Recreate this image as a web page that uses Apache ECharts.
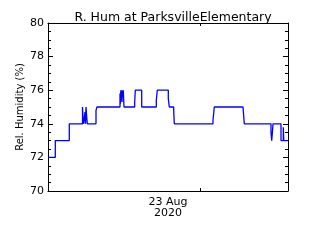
<!DOCTYPE html>
<html><head><meta charset="utf-8">
<script src="https://cdn.jsdelivr.net/npm/echarts@6/dist/echarts.min.js"></script>
<style>html,body{margin:0;padding:0;background:#fff}#c{width:320px;height:240px}</style>
</head><body><div id="c"></div>
<script>
const titleText = "R. Hum at ParksvilleElementary";
const yAxisName = "Rel. Humidity (%)";
const xAxisName = "23 Aug\n2020";
// hours since start of plotted window (22 Aug ~08:48)
const hours = [0, 0.73, 2.13, 3.45, 3.51, 3.57, 3.7, 3.75, 3.8, 3.86, 3.93, 4.8, 4.9,
  7.2, 7.24, 7.28, 7.32, 7.36, 7.4, 7.44, 7.49, 7.53, 7.6, 8.67, 8.73, 9.37, 10.83, 10.93,
  12.03, 12.13, 12.57, 12.63, 16.5, 16.63, 19.5, 19.63, 22.3, 22.37, 22.43, 22.5,
  23.3, 23.53, 23.58, 23.95];
const humidity = [72, 73, 74, 75, 74.3, 74, 74.7, 74, 75, 74.5, 74, 74.8, 75,
  75.8, 75.2, 76, 75.4, 76, 75.3, 76, 75.6, 76, 75, 75.3, 76, 75, 75.4, 76,
  75.5, 75, 74.8, 74, 74.2, 75, 74.9, 74, 73.5, 73, 73.4, 74,
  73, 73.8, 73, 73];
const midnightTick = [15.2];
const xRange = [0, 24];
const yRange = [70, 80];
const yStep = 2;

const chart = echarts.init(document.getElementById('c'), null, {renderer: 'canvas'});
const font = 'DejaVu Sans';
const yBase = {
  type: 'value', min: yRange[0], max: yRange[1], interval: yStep,
  axisLine: {show: true, onZero: false, lineStyle: {color: '#000', width: 1}},
  axisTick: {show: true, inside: true, length: 5, lineStyle: {color: '#000'}},
  minorTick: {show: true, splitNumber: 4, length: 3, lineStyle: {color: '#000'}},
  splitLine: {show: false}
};
chart.setOption({
  animation: false,
  title: {text: titleText, left: 168, top: 6, textAlign: 'center',
    textStyle: {fontFamily: font, fontSize: 12.5, fontWeight: 'normal', color: '#000'}},
  grid: {left: 48, right: 32, top: 23, bottom: 49},
  xAxis: [{
    type: 'value', min: xRange[0], max: xRange[1], position: 'bottom',
    name: xAxisName, nameLocation: 'middle', nameGap: 6, nameMoveOverlap: false,
    nameTextStyle: {fontFamily: font, fontSize: 11, color: '#000', lineHeight: 11, verticalAlign: 'top'},
    axisLine: {show: true, onZero: false, lineStyle: {color: '#000', width: 1}},
    axisTick: {show: true, inside: true, length: 3, customValues: midnightTick, lineStyle: {color: '#000'}},
    axisLabel: {show: false}, splitLine: {show: false}
  }, {
    type: 'value', min: xRange[0], max: xRange[1], position: 'top',
    axisLine: {show: true, onZero: false, lineStyle: {color: '#000', width: 1}},
    axisTick: {show: true, inside: true, length: 3, customValues: midnightTick, lineStyle: {color: '#000'}},
    axisLabel: {show: false}, splitLine: {show: false}
  }],
  yAxis: [Object.assign({}, yBase, {
    position: 'left', name: yAxisName, nameLocation: 'middle', nameGap: 23, nameMoveOverlap: false,
    nameTextStyle: {fontFamily: font, fontSize: 10, color: '#000'},
    axisLabel: {show: true, margin: 4, fontFamily: font, fontSize: 11, color: '#000'}
  }), Object.assign({}, yBase, {
    position: 'right', axisLabel: {show: false}
  })],
  series: [{
    type: 'line', step: 'end', xAxisIndex: 0, yAxisIndex: 0,
    data: hours.map((h, i) => [h, humidity[i]]),
    showSymbol: false, symbol: 'none',
    lineStyle: {color: '#0000ff', width: 1.3}
  }]
});
</script></body></html>
